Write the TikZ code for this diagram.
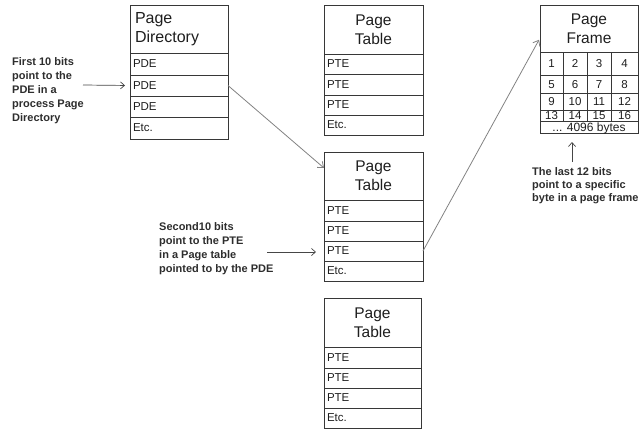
\documentclass[tikz,border=0pt]{standalone}
\usepackage{fontspec}
\setmainfont{Liberation Sans}
\usetikzlibrary{arrows.meta}

\definecolor{boxc}{RGB}{55,55,55}
\definecolor{txtc}{RGB}{30,30,30}
\definecolor{labc}{RGB}{45,45,45}
\definecolor{larrc}{RGB}{70,70,70}
\definecolor{darrc}{RGB}{130,130,130}

\tikzset{
  box/.style={draw=boxc, line width=0.8pt, anchor=north west, inner ysep=0pt, outer sep=0pt, text=txtc},
  hdrleft/.style={box, font=\fontsize{16}{19}\selectfont, align=left, inner xsep=5pt, text width=88pt},
  hdrmid/.style={box, font=\fontsize{15.5}{19}\selectfont, align=center, inner xsep=0pt, text width=#1},
  entry/.style={box, font=\fontsize{11.5}{12}\selectfont, align=left, inner xsep=3pt, text width=#1},
  numcell/.style={box, font=\fontsize{11.5}{12}\selectfont, inner xsep=0pt, align=center,
    text height=8pt, text depth=0pt},
  lab/.style={anchor=north west, inner sep=0pt, align=left, text=labc, font=\bfseries\fontsize{11}{14.2}\selectfont},
  larr/.style={draw=larrc, line width=0.7pt, -{Straight Barb[length=4pt,width=7pt]}},
  darr/.style={draw=darrc, line width=0.8pt, -{Straight Barb[length=5pt,width=8pt]}}
}

\begin{document}
\begin{tikzpicture}[x=1pt, y=-1pt]
\useasboundingbox (0,0) rectangle (640,429);

% Page directory
\node[hdrleft, minimum height=48pt] (pdh) at (130,5) {Page\\Directory};
\node[entry=92pt, minimum height=22pt] (pd1) at (130,53) {PDE};
\node[entry=92pt, minimum height=21pt] (pd2) at (130,75) {PDE};
\node[entry=92pt, minimum height=21pt] (pd3) at (130,96) {PDE};
\node[entry=92pt, minimum height=22pt] (pd4) at (130,117) {Etc.};

% Page table (top)
\node[hdrmid=99pt, minimum height=49pt] (pta) at (324,5) {Page\\Table};
\node[entry=93pt, minimum height=20pt] (pta1) at (324,54) {PTE};
\node[entry=93pt, minimum height=21pt] (pta2) at (324,74) {PTE};
\node[entry=93pt, minimum height=20pt] (pta3) at (324,95) {PTE};
\node[entry=93pt, minimum height=20pt] (pta4) at (324,115) {Etc.};

% Page table (middle)
\node[hdrmid=99pt, minimum height=48pt] (ptb) at (324,152) {Page\\Table};
\node[entry=93pt, minimum height=21pt] (ptb1) at (324,200) {PTE};
\node[entry=93pt, minimum height=20pt] (ptb2) at (324,221) {PTE};
\node[entry=93pt, minimum height=20pt] (ptb3) at (324,241) {PTE};
\node[entry=93pt, minimum height=20pt] (ptb4) at (324,261) {Etc.};

% Page table (bottom)
\node[hdrmid=97pt, minimum height=49pt] (ptc) at (324,298) {Page\\Table};
\node[entry=91pt, minimum height=21pt] (ptc1) at (324,347) {PTE};
\node[entry=91pt, minimum height=20pt] (ptc2) at (324,368) {PTE};
\node[entry=91pt, minimum height=20pt] (ptc3) at (324,388) {PTE};
\node[entry=91pt, minimum height=20pt] (ptc4) at (324,408) {Etc.};

% Page frame
\node[hdrmid=98pt, minimum height=47pt] (pfh) at (540,5) {Page\\Frame};
\foreach \r/\y/\h in {0/52/23, 1/75/18, 2/93/17, 3/110/11} {
  \foreach \c/\x/\w in {1/540/23, 2/563/24, 3/587/24, 4/611/27} {
    \pgfmathtruncatemacro\n{\r*4+\c}
    \node[numcell, minimum width=\w pt, minimum height=\h pt] (n\n) at (\x,\y) {\n};
  }
}
\node[numcell, minimum width=98pt, minimum height=12pt, font=\fontsize{12}{12}\selectfont] (pfl) at (540,121) {... 4096 bytes};

% Explanatory labels
\node[lab] (l1) at (12,57) {First 10 bits\\point to the\\PDE in a\\process Page\\Directory};
\node[lab] (l2) at (159,222) {Second10 bits\\point to the PTE\\in a Page table\\pointed to by the PDE};
\node[lab, font=\bfseries\fontsize{11}{13.4}\selectfont] (l3) at (532,167) {The last 12 bits\\point to a specific\\byte in a page frame};

% Label arrows
\coordinate (s1) at (83,85);
\coordinate (s2) at (267,252);
\coordinate (s3) at (572,162);
\draw[larr, shorten >=5pt] (s1) -- (pd2.west);
\draw[larr, shorten >=8pt] (s2) -- (s2 -| ptb3.west);
\draw[larr, shorten >=9pt] (s3) -- (s3 |- pfl.south);

% Translation arrows
\draw[darr] (pd2.east) -- ([yshift=8pt]ptb.west);
\draw[darr, shorten >=2pt] (ptb3.east) -- ([yshift=-9.5pt]pfh.west);
\end{tikzpicture}
\end{document}
